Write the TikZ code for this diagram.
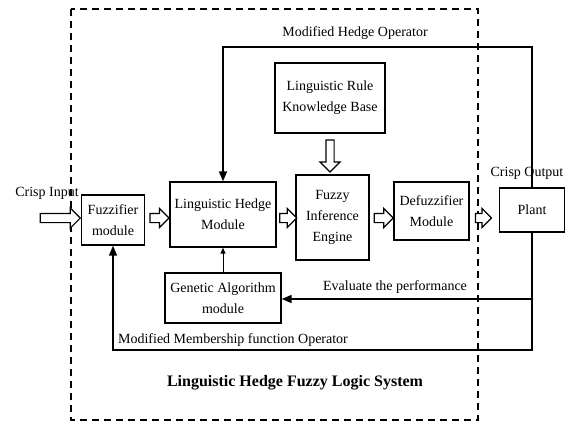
\documentclass[tikz,border=0pt]{standalone}
\usepackage{fontspec}
\setmainfont{Liberation Serif}
\usetikzlibrary{arrows.meta, calc, shapes.arrows}

\begin{document}
\begin{tikzpicture}[x=1pt, y=-1pt, font=\fontsize{14}{21}\selectfont]
    \tikzstyle{block} = [rectangle, draw=black, line width=1.3pt, text centered, align=center, inner sep=2pt]
    \tikzstyle{hollow} = [single arrow, draw=black, fill=white, line width=1.2pt, inner sep=0pt, inner ysep=4pt, single arrow head extend=5pt, minimum height=19pt, sloped]
    \tikzstyle{feedback} = [line width=1.6pt, -{Triangle[length=10pt, width=8pt]}]
    \tikzstyle{lbl} = [inner sep=0pt]
    \useasboundingbox (0,0) rectangle (567,423);
    % System border
    \draw[line width=1.5pt, dash pattern=on 7pt off 5pt] (71,9) rectangle (478,420);
    % Nodes
    \node (rule) [block, minimum width=110pt, minimum height=70pt] at (330,98) {Linguistic Rule\\ Knowledge Base};
    \node (fuzz) [block, minimum width=63pt, minimum height=50pt] at (113,220) {Fuzzifier\\ module};
    \node (lhm) [block, minimum width=106pt, minimum height=65pt] at (223,214.5) {Linguistic Hedge\\ Module};
    \node (fie) [block, minimum width=73pt, minimum height=85pt] at (332.5,217.5) {Fuzzy\\ Inference\\ Engine};
    \node (defuzz) [block, minimum width=75pt, minimum height=58pt] at (431.5,211) {Defuzzifier\\ Module};
    \node (plant) [block, minimum width=65pt, minimum height=44pt] at (532,210) {Plant};
    \node (ga) [block, minimum width=116pt, minimum height=50pt] at (223,298) {Genetic Algorithm\\ module};
    % Labels
    \node (crispin) [lbl] at (47,193) {Crisp Input};
    \node (crispout) [lbl] at (527,173) {Crisp Output};
    \node (hedgeop) [lbl] at (355,33) {Modified Hedge Operator};
    \node (evaluate) [lbl] at (395,287) {Evaluate the performance};
    \node (mfop) [lbl] at (233,340) {Modified Membership function Operator};
    \node (title) [lbl, font=\fontsize{16}{21}\selectfont\bfseries] at (295,383) {Linguistic Hedge Fuzzy Logic System};
    % Hollow arrows
    \coordinate (inpt) at (37,218);
    \path (inpt) -- (inpt -| fuzz.west) node[hollow, pos=0.48, minimum height=40pt, single arrow head extend=5.5pt] {};
    \path (fuzz.east |- inpt) -- (inpt -| lhm.west) node[hollow, midway] {};
    \path (lhm.east |- inpt) -- (inpt -| fie.west) node[hollow, midway, minimum height=17pt] {};
    \path (fie.east |- inpt) -- (inpt -| defuzz.west) node[hollow, midway] {};
    \path (defuzz.east |- inpt) -- (inpt -| plant.west) node[hollow, midway, minimum height=16pt, xshift=-3pt] {};
    \path (rule.south) -- (rule.south |- fie.north) node[hollow, midway, minimum height=32pt, inner ysep=3.5pt, single arrow head extend=6pt] {};
    % Feedback arrows
    \coordinate (topfb) at (223,47);
    \draw [feedback] (plant.north) |- (topfb) -- (lhm.north);
    \coordinate (botfb) at (113,350);
    \draw [feedback] (plant.south) |- (botfb) -- (fuzz.south);
    \coordinate (evfb) at (532,299);
    \draw [feedback] (evfb) -- (evfb -| ga.east);
    \draw [line width=1pt, -{Triangle[length=6pt, width=5pt]}] (ga.north) -- (lhm.south);
\end{tikzpicture}
\end{document}
